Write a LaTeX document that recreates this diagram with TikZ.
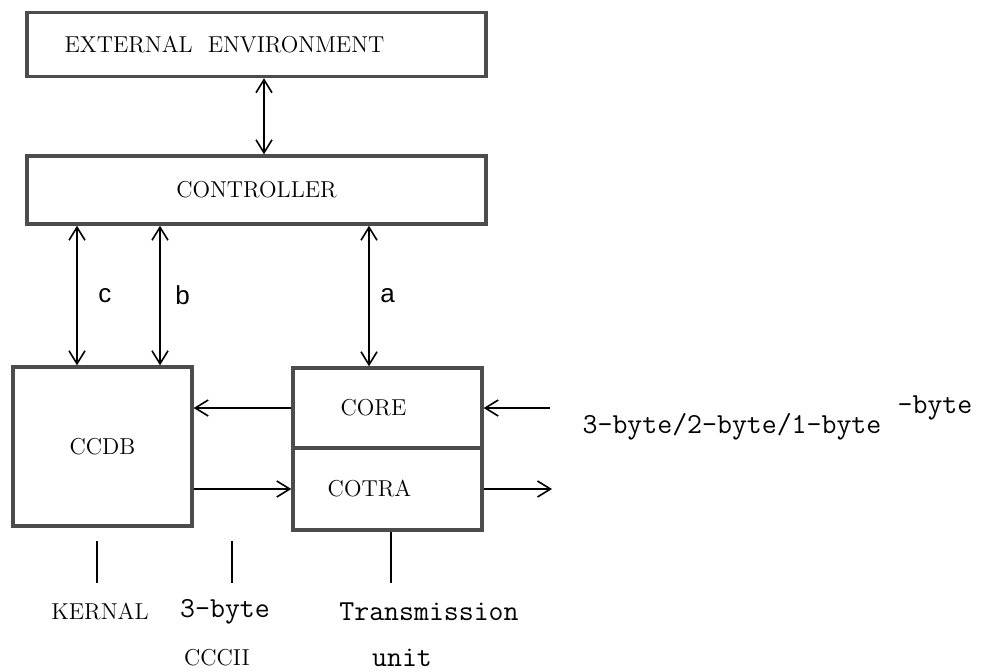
\documentclass[tikz,border=0pt]{standalone}
\usepackage{fontspec}
\usepackage{tikz}
\usetikzlibrary{arrows.meta,positioning}
\newfontfamily\lblfont{Liberation Sans}

\begin{document}
\begin{tikzpicture}[x=0.5pt,y=-0.5pt,
box/.style={draw=black!70,line width=1.7pt,inner sep=0pt,font=\fontsize{11.5}{13}\selectfont},
link/.style={line width=0.8pt,{Straight Barb[length=6.5pt,width=8pt]}-{Straight Barb[length=6.5pt,width=8pt]}},
flow/.style={line width=0.8pt,-{Straight Barb[length=6.5pt,width=8pt]}},
tt/.style={font=\ttfamily\fontsize{14.5}{16}\selectfont},
rm/.style={font=\fontsize{11.5}{13}\selectfont},
ab/.style={font=\lblfont\fontsize{13}{15}\selectfont}]
\useasboundingbox (0,0) rectangle (984,671);
%boxes
\node[box,minimum width=229.5pt,minimum height=32pt,label={[rm,xshift=-16pt]center:EXTERNAL\ \ ENVIRONMENT}](ext) at (256.5,44.5){};
\node[box,minimum width=229.5pt,minimum height=34pt](ctrl) at (256.5,190){CONTROLLER};
\node[box,minimum width=89.5pt,minimum height=79.5pt](ccdb) at (102.5,446.5){CCDB};
\node[box,minimum width=94.5pt,minimum height=40pt,label={[rm,xshift=-7pt]center:CORE}](core) at (387.5,408){};
\node[box,minimum width=94.5pt,minimum height=41pt,label={[rm,xshift=-9pt]center:COTRA}](cotra) at (387.5,489){};
%x positions of the links
\coordinate (xe) at (264,0);
\coordinate (xc) at (77,0);
\coordinate (xb) at (160,0);
\coordinate (xa) at (369,0);
\draw[link](ext.south -| xe)--(ctrl.north -| xe);
\draw[link](ctrl.south -| xc)--(ccdb.north -| xc)node[midway,right=7pt,ab]{c};
\draw[link](ctrl.south -| xb)--(ccdb.north -| xb)node[midway,right=4pt,ab]{b};
\draw[link](ctrl.south -| xa)--(core.north -| xa)node[midway,right=2pt,ab]{a};
\draw[flow](core.west)--(core.west -| ccdb.east);
\draw[flow](cotra.west -| ccdb.east)--(cotra.west);
\coordinate (in) at (550,408);
\coordinate (out) at (552,489);
\draw[flow](in)--(core.east);
\draw[flow](cotra.east)--(out);
\node[tt](bytes) at (732,427){3-byte/2-byte/1-byte};
\node[tt](extra) at (935,408){-byte};
%labels underneath
\node[rm](kernal) at (100,612){KERNAL};
\node[tt](three) at (225,612){3-byte};
\node[rm](cccii) at (217,658){CCCII};
\node[tt](trans) at (429,612){Transmission};
\node[tt](unit) at (402,658){unit};
\coordinate (k1) at (97,541);
\coordinate (k2) at (97,583);
\coordinate (t1) at (232,541);
\coordinate (t2) at (232,583);
\coordinate (u2) at (391,583);
\draw[line width=0.8pt](k1)--(k2) (t1)--(t2) (cotra.south -| u2)--(u2);
\end{tikzpicture}
\end{document}
